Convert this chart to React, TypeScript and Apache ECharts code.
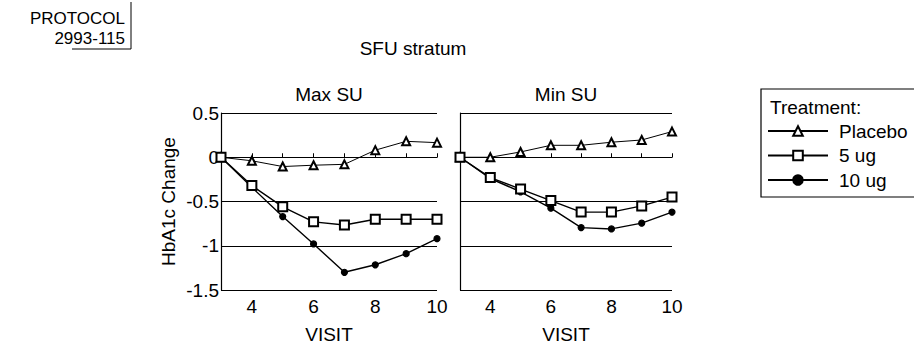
import React, { useEffect, useRef } from "react";
import * as echarts from "echarts";

const visits = [3, 4, 5, 6, 7, 8, 9, 10];
const treatments = ["Placebo", "5 ug", "10 ug"];
const maxPlacebo = [0, -0.04, -0.105, -0.09, -0.08, 0.08, 0.18, 0.165];
const max5ug = [0, -0.32, -0.56, -0.73, -0.765, -0.7, -0.7, -0.7];
const max10ug = [0, -0.34, -0.67, -0.98, -1.3, -1.215, -1.09, -0.92];
const minPlacebo = [0, 0.0, 0.06, 0.135, 0.135, 0.17, 0.195, 0.29];
const min5ug = [0, -0.23, -0.36, -0.49, -0.62, -0.62, -0.55, -0.45];
const min10ug = [0, -0.24, -0.39, -0.575, -0.795, -0.81, -0.745, -0.62];
const yTicks = [0.5, 0, -0.5, -1, -1.5];
const xTickLabels = [4, 6, 8, 10];

const FONT = "'Liberation Sans', Arial, Helvetica, sans-serif";
const FS = 19;

const pairs = (ys: number[]) => visits.map((v, i) => [v, ys[i]]);

const symbolFor: Record<string, { symbol: string; size: number; width: number }> = {
  Placebo: { symbol: "emptyTriangle", size: 8, width: 1 },
  "5 ug": { symbol: "emptyRect", size: 9, width: 1.4 },
  "10 ug": { symbol: "circle", size: 6, width: 1.4 },
};

function makeSeries(name: string, ys: number[], idx: number) {
  const s = symbolFor[name];
  return {
    type: "line",
    name,
    xAxisIndex: idx,
    yAxisIndex: idx,
    data: pairs(ys),
    symbol: s.symbol,
    symbolSize: s.size,
    showAllSymbol: true,
    lineStyle: { color: "#000", width: s.width },
    itemStyle: { color: "#000", borderColor: "#000", borderWidth: 1.2 },
    z: name === "5 ug" ? 4 : 3,
  };
}

function xAxis(idx: number) {
  return {
    type: "value",
    gridIndex: idx,
    min: 3,
    max: 10,
    interval: 1,
    name: "VISIT",
    nameLocation: "middle",
    nameGap: 35,
    nameTextStyle: { fontSize: FS, color: "#000", fontFamily: FONT },
    axisLine: { show: true, lineStyle: { color: "#000", width: 1.2 } },
    axisTick: { show: true, inside: true, length: 4, lineStyle: { color: "#000" } },
    axisLabel: {
      fontSize: FS,
      color: "#000",
      fontFamily: FONT,
      margin: 7,
      formatter: (v: number) => (xTickLabels.includes(v) ? String(v) : ""),
    },
    splitLine: { show: false },
  };
}

function yAxis(idx: number, showLabels: boolean) {
  return {
    type: "value",
    gridIndex: idx,
    min: -1.5,
    max: 0.5,
    interval: 0.5,
    name: showLabels ? "HbA1c Change" : "",
    nameLocation: "middle",
    nameGap: 43,
    nameTextStyle: { fontSize: FS, color: "#000", fontFamily: FONT },
    axisLine: { show: true, lineStyle: { color: "#000", width: 1.2 } },
    axisTick: { show: false },
    axisLabel: {
      show: showLabels,
      fontSize: FS,
      color: "#000",
      fontFamily: FONT,
      margin: 2,
      formatter: (v: number) => (yTicks.includes(v) ? String(v) : ""),
    },
    splitLine: { show: true, lineStyle: { color: "#000", width: 1 } },
  };
}

export default function App() {
  const ref = useRef<HTMLDivElement>(null);
  useEffect(() => {
    document.body.style.margin = "0";
    const chart = echarts.init(ref.current!, null, { renderer: "svg" });
    chart.setOption({
      animation: false,
      backgroundColor: "#fff",
      textStyle: { fontFamily: FONT },
      grid: [
        { left: 221, top: 113, width: 216, height: 182 },
        { left: 460, top: 113, width: 212, height: 182 },
      ],
      xAxis: [xAxis(0), xAxis(1)],
      yAxis: [yAxis(0, true), yAxis(1, false)],
      legend: {
        data: treatments,
        orient: "vertical",
        left: 767,
        top: 121,
        padding: 0,
        itemWidth: 60,
        itemHeight: 12,
        itemGap: 4.5,
        selectedMode: false,
        textStyle: { fontSize: FS, color: "#000", fontFamily: FONT, lineHeight: 20, padding: [0, 0, 0, 6] },
      },
      series: [
        makeSeries("Placebo", maxPlacebo, 0),
        makeSeries("5 ug", max5ug, 0),
        makeSeries("10 ug", max10ug, 0),
        makeSeries("Placebo", minPlacebo, 1),
        makeSeries("5 ug", min5ug, 1),
        makeSeries("10 ug", min10ug, 1),
      ],
      graphic: [
        {
          type: "text",
          x: 125,
          y: 18,
          style: { text: "PROTOCOL", fontSize: 17, fill: "#000", fontFamily: FONT, align: "right", verticalAlign: "middle" },
        },
        {
          type: "text",
          x: 125,
          y: 38,
          style: { text: "2993-115", fontSize: 17, fill: "#000", fontFamily: FONT, align: "right", verticalAlign: "middle" },
        },
        { type: "line", shape: { x1: 131, y1: 2, x2: 131, y2: 49 }, style: { stroke: "#000", lineWidth: 1 } },
        { type: "line", shape: { x1: 72, y1: 49, x2: 131, y2: 49 }, style: { stroke: "#000", lineWidth: 1 } },
        {
          type: "text",
          x: 413,
          y: 48,
          style: { text: "SFU stratum", fontSize: FS, fill: "#000", fontFamily: FONT, align: "center", verticalAlign: "middle" },
        },
        {
          type: "text",
          x: 329,
          y: 94,
          style: { text: "Max SU", fontSize: FS, fill: "#000", fontFamily: FONT, align: "center", verticalAlign: "middle" },
        },
        {
          type: "text",
          x: 566,
          y: 94,
          style: { text: "Min SU", fontSize: FS, fill: "#000", fontFamily: FONT, align: "center", verticalAlign: "middle" },
        },
        {
          type: "rect",
          shape: { x: 761, y: 89, width: 200, height: 108 },
          style: { fill: "none", stroke: "#000", lineWidth: 1.2 },
        },
        {
          type: "text",
          x: 770,
          y: 107,
          style: { text: "Treatment:", fontSize: FS, fill: "#000", fontFamily: FONT, align: "left", verticalAlign: "middle" },
        },
      ],
    });
    return () => chart.dispose();
  }, []);
  return <div ref={ref} style={{ width: 914, height: 349 }} />;
}
